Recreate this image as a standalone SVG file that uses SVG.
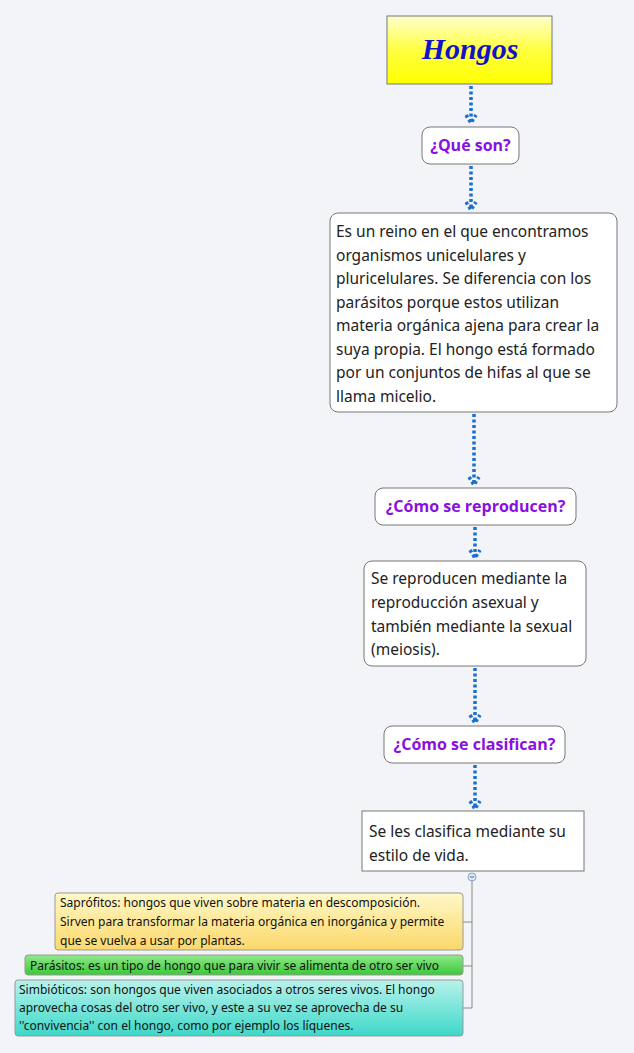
<svg xmlns="http://www.w3.org/2000/svg" width="634" height="1053" viewBox="0 0 634 1053">
<defs>
<linearGradient id="gy" x1="0" y1="0" x2="0" y2="1"><stop offset="0" stop-color="#ffffd0"/><stop offset="0.5" stop-color="#ffff40"/><stop offset="1" stop-color="#ffff00"/></linearGradient>
<linearGradient id="gs" x1="0" y1="0" x2="0" y2="1"><stop offset="0" stop-color="#fff8c8"/><stop offset="1" stop-color="#fbd86a"/></linearGradient>
<linearGradient id="gp" x1="0" y1="0" x2="0" y2="1"><stop offset="0" stop-color="#8ee88a"/><stop offset="1" stop-color="#3cc83a"/></linearGradient>
<linearGradient id="gc" x1="0" y1="0" x2="0" y2="1"><stop offset="0" stop-color="#b8f2ec"/><stop offset="1" stop-color="#3dd8c8"/></linearGradient>
<marker id="ah" viewBox="0 0 10 10" refX="5" refY="8" markerWidth="5" markerHeight="5" orient="auto-start-reverse" markerUnits="userSpaceOnUse"><path d="M0,0 L5,8 L10,0" fill="none" stroke="#1a6fd0" stroke-width="2.5"/></marker>
</defs>
<style>
.bg{fill:#f3f4f7}
.arr{stroke:#1a6fd0;stroke-width:3.5;stroke-dasharray:3 2.5;fill:none}
.box{fill:#fff;stroke:#777;stroke-width:1}
.q{font-family:"Open Sans","Noto Sans",sans-serif;font-weight:bold;font-size:16px;fill:#8a10e0;text-anchor:middle}
.t{font-family:"Noto Sans","Open Sans",sans-serif;font-size:15.5px;fill:#222}
.s{font-family:"Noto Sans","Open Sans",sans-serif;font-size:12px;fill:#111}
.ln{stroke:#888;stroke-width:1;fill:none}
</style>
<rect class="bg" width="634" height="1053"/>
<g id="connectors">
<line class="arr" x1="471" y1="86" x2="471" y2="124"/>
<path class="arr" d="M466,115 L471,123 L476,115" stroke-dasharray="none"/>
<line class="arr" x1="471" y1="166" x2="471" y2="210"/>
<path class="arr" d="M466,202 L471,210 L476,202" stroke-dasharray="none"/>
<line class="arr" x1="474" y1="414" x2="474" y2="485"/>
<path class="arr" d="M469,477 L474,485 L479,477" stroke-dasharray="none"/>
<line class="arr" x1="475" y1="527" x2="475" y2="558"/>
<path class="arr" d="M470,550 L475,558 L480,550" stroke-dasharray="none"/>
<line class="arr" x1="475" y1="668" x2="475" y2="723"/>
<path class="arr" d="M470,715 L475,723 L480,715" stroke-dasharray="none"/>
<line class="arr" x1="475" y1="765" x2="475" y2="809"/>
<path class="arr" d="M470,801 L475,809 L480,801" stroke-dasharray="none"/>
<path class="ln" d="M472,881 V1008 M463,922 H472 M463,966 H472 M463,1008 H472"/>
<circle cx="472" cy="877" r="4" fill="#dde6f5" stroke="#8aa0c8"/>
<line x1="470" y1="877" x2="474" y2="877" stroke="#5070a8"/>
</g>
<g id="hongos">
<rect x="387" y="16" width="165" height="68" fill="url(#gy)" stroke="#777"/>
<text x="470" y="59" text-anchor="middle" font-family="'Liberation Serif',serif" font-style="italic" font-weight="bold" font-size="30" fill="#1212c8">Hongos</text>
</g>
<g id="que-son">
<rect class="box" x="422" y="127" width="97" height="37" rx="8"/>
<text class="q" x="470.5" y="151">¿Qué son?</text>
</g>
<g id="definicion">
<rect class="box" x="330" y="213" width="287" height="199" rx="8"/>
<text class="t"><tspan x="336" y="237">Es un reino en el que encontramos</tspan><tspan x="336" y="261">organismos unicelulares y</tspan><tspan x="336" y="284">pluricelulares. Se diferencia con los</tspan><tspan x="336" y="308">parásitos porque estos utilizan</tspan><tspan x="336" y="331">materia orgánica ajena para crear la</tspan><tspan x="336" y="355">suya propia. El hongo está formado</tspan><tspan x="336" y="378">por un conjuntos de hifas al que se</tspan><tspan x="336" y="402">llama micelio.</tspan></text>
</g>
<g id="como-reproducen">
<rect class="box" x="375" y="488" width="201" height="37" rx="8"/>
<text class="q" x="475.5" y="512">¿Cómo se reproducen?</text>
</g>
<g id="reproduccion">
<rect class="box" x="364" y="561" width="222" height="105" rx="8"/>
<text class="t"><tspan x="371" y="584">Se reproducen mediante la</tspan><tspan x="371" y="608">reproducción asexual y</tspan><tspan x="371" y="632">también mediante la sexual</tspan><tspan x="371" y="655">(meiosis).</tspan></text>
</g>
<g id="como-clasifican">
<rect class="box" x="384" y="726" width="181" height="37" rx="8"/>
<text class="q" x="474.5" y="750">¿Cómo se clasifican?</text>
</g>
<g id="clasificacion">
<rect class="box" x="362" y="811" width="222" height="60"/>
<text class="t"><tspan x="369" y="837">Se les clasifica mediante su</tspan><tspan x="369" y="861">estilo de vida.</tspan></text>
</g>
<g id="saprofitos">
<rect x="55" y="893" width="408" height="57" rx="3" fill="url(#gs)" stroke="#999"/>
<text class="s"><tspan x="60" y="907">Saprófitos: hongos que viven sobre materia en descomposición.</tspan><tspan x="60" y="926">Sirven para transformar la materia orgánica en inorgánica y permite</tspan><tspan x="60" y="945">que se vuelva a usar por plantas.</tspan></text>
</g>
<g id="parasitos">
<rect x="25" y="955" width="438" height="20" rx="3" fill="url(#gp)" stroke="#999"/>
<text class="s" x="30" y="970">Parásitos: es un tipo de hongo que para vivir se alimenta de otro ser vivo</text>
</g>
<g id="simbioticos">
<rect x="15" y="980" width="448" height="56" rx="3" fill="url(#gc)" stroke="#999"/>
<text class="s"><tspan x="19" y="994">Simbióticos: son hongos que viven asociados a otros seres vivos. El hongo</tspan><tspan x="19" y="1012">aprovecha cosas del otro ser vivo, y este a su vez se aprovecha de su</tspan><tspan x="19" y="1030">''convivencia'' con el hongo, como por ejemplo los líquenes.</tspan></text>
</g>
</svg>
